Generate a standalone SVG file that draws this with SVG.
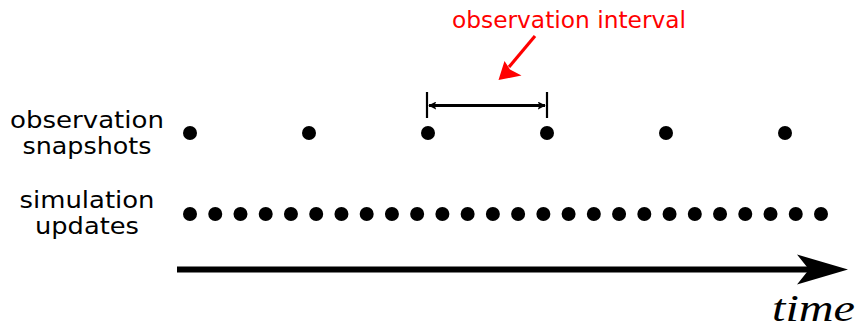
<svg xmlns="http://www.w3.org/2000/svg" width="858" height="329" viewBox="0 0 858 329">
<style>
.lbl{font-family:"DejaVu Sans",sans-serif;font-size:23.5px;fill:#000;text-anchor:middle}
.red{font-family:"DejaVu Sans",sans-serif;font-size:23px;fill:#ff0000}
.time{font-family:"Liberation Serif",serif;font-style:italic;font-size:38px;fill:#000}
.dot{fill:#000}
</style>
<defs>
<marker id="sm" viewBox="0 0 10 10" refX="9" refY="5" markerWidth="8" markerHeight="8" markerUnits="userSpaceOnUse" orient="auto-start-reverse">
<path d="M0,0 L10,5 L0,10 L2,5 Z" fill="#000"/>
</marker>
</defs>
<g id="label-observation">
<text class="lbl" x="87" y="128" textLength="154" lengthAdjust="spacingAndGlyphs">observation</text>
<text class="lbl" x="87" y="154" textLength="129" lengthAdjust="spacingAndGlyphs">snapshots</text>
</g>
<g id="label-simulation">
<text class="lbl" x="87" y="208" textLength="135" lengthAdjust="spacingAndGlyphs">simulation</text>
<text class="lbl" x="87" y="234" textLength="104" lengthAdjust="spacingAndGlyphs">updates</text>
</g>
<g id="observation-snapshots">
<circle class="dot" cx="190" cy="133" r="7"/>
<circle class="dot" cx="309" cy="133" r="7"/>
<circle class="dot" cx="428" cy="133" r="7"/>
<circle class="dot" cx="547" cy="133" r="7"/>
<circle class="dot" cx="666" cy="133" r="7"/>
<circle class="dot" cx="785" cy="133" r="7"/>
</g>
<g id="simulation-updates">
<circle class="dot" cx="190" cy="214" r="7"/>
<circle class="dot" cx="215.24" cy="214" r="7"/>
<circle class="dot" cx="240.48" cy="214" r="7"/>
<circle class="dot" cx="265.72" cy="214" r="7"/>
<circle class="dot" cx="290.96" cy="214" r="7"/>
<circle class="dot" cx="316.2" cy="214" r="7"/>
<circle class="dot" cx="341.44" cy="214" r="7"/>
<circle class="dot" cx="366.68" cy="214" r="7"/>
<circle class="dot" cx="391.92" cy="214" r="7"/>
<circle class="dot" cx="417.16" cy="214" r="7"/>
<circle class="dot" cx="442.4" cy="214" r="7"/>
<circle class="dot" cx="467.64" cy="214" r="7"/>
<circle class="dot" cx="492.88" cy="214" r="7"/>
<circle class="dot" cx="518.12" cy="214" r="7"/>
<circle class="dot" cx="543.36" cy="214" r="7"/>
<circle class="dot" cx="568.6" cy="214" r="7"/>
<circle class="dot" cx="593.84" cy="214" r="7"/>
<circle class="dot" cx="619.08" cy="214" r="7"/>
<circle class="dot" cx="644.32" cy="214" r="7"/>
<circle class="dot" cx="669.56" cy="214" r="7"/>
<circle class="dot" cx="694.8" cy="214" r="7"/>
<circle class="dot" cx="720.04" cy="214" r="7"/>
<circle class="dot" cx="745.28" cy="214" r="7"/>
<circle class="dot" cx="770.52" cy="214" r="7"/>
<circle class="dot" cx="795.76" cy="214" r="7"/>
<circle class="dot" cx="821" cy="214" r="7"/>
</g>
<g id="interval">
<line x1="427" y1="92" x2="427" y2="118" stroke="#000" stroke-width="2.2"/>
<line x1="547" y1="92" x2="547" y2="118" stroke="#000" stroke-width="2.2"/>
<line x1="429" y1="105.5" x2="545" y2="105.5" stroke="#000" stroke-width="3" marker-start="url(#sm)" marker-end="url(#sm)"/>
</g>
<g id="label-interval">
<text class="red" x="452" y="28" textLength="234" lengthAdjust="spacingAndGlyphs">observation interval</text>
</g>
<g id="connectors">
<line x1="535" y1="36" x2="509" y2="67" stroke="#ff0000" stroke-width="3.2"/>
<path d="M498.5,80 L504.5,61 L510,69.5 L521.5,75.5 Z" fill="#ff0000"/>
<line x1="177" y1="269.5" x2="812" y2="269.5" stroke="#000" stroke-width="6"/>
<path d="M848,269.5 L797,254.5 L809,269.5 L797,284.5 Z" fill="#000"/>
</g>
<g id="label-time">
<text class="time" x="772" y="321" textLength="83" lengthAdjust="spacingAndGlyphs">time</text>
</g>
</svg>
